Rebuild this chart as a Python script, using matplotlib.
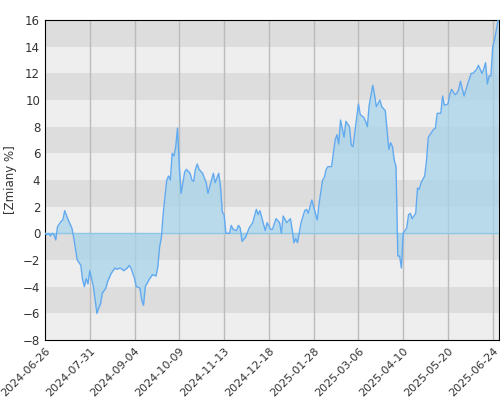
import matplotlib
matplotlib.use("Agg")
import matplotlib.pyplot as plt

tick_labels = ["2024-06-26","2024-07-31","2024-09-04","2024-10-09","2024-11-13","2024-12-18",
               "2025-01-28","2025-03-06","2025-04-10","2025-05-20","2025-06-24"]
xs = [0,1,2,3,4,5,6,7,9,10,11,13,15,16,18,20,21,22,23,24,25,27,29,30,31,32,34,35,37,39,
      40,42,44,46,47,48,50,51,53,54,55,56,58,60,62,63,64,65,66,68,69,70,71,72,73,74,75,76,78,79,
      81,82,83,84,85,86,88,90,91,92,94,95,97,98,99,100,101,103,104,105,107,108,109,110,112,114,116,118,119,120,
      123,124,126,127,129,131,132,133,135,137,138,139,140,141,143,145,146,147,149,150,152,153,155,156,157,158,160,162,163,164,
      165,167,168,170,171,172,174,175,176,178,179,180,181,183,184,185,187,188,190,192,193,194,195,196,
      197,198,199,200,202,203,204,205,207,208,209,210,212,213,214,216,217,218,219,221,222,223,225,226,
      227,229,230,231,232,234,236,238,239,241,242,244,245,246,247,248,249,250,251,253]
ys = [0,-0.1,0,-0.2,0,-0.1,-0.5,0.5,0.9,1.0,1.7,1.0,0.4,-0.3,-2.0,-2.4,-3.5,-4.0,-3.4,-3.8,-2.8,-4.0,-6.0,-5.6,-5.3,-4.5,-4.1,-3.6,-3.0,-2.6,
      -2.7,-2.6,-2.8,-2.6,-2.4,-2.6,-3.4,-4.0,-4.1,-5.0,-5.4,-4.0,-3.5,-3.1,-3.2,-2.5,-1.0,-0.3,1.5,4.0,4.3,4.0,6.0,5.8,6.5,7.9,5.0,3.0,4.6,4.8,
      4.5,4.0,3.9,4.8,5.2,4.8,4.5,3.8,3.0,3.5,4.5,3.8,4.5,3.5,1.6,1.4,0.0,0.0,0.6,0.3,0.2,0.6,0.4,-0.6,-0.3,0.4,0.8,1.8,1.4,1.7,
      0.2,0.8,0.3,0.3,1.1,0.8,0.0,1.3,0.8,1.1,0.3,-0.7,-0.4,-0.7,0.8,1.7,1.8,1.5,2.5,2.0,1.0,2.2,4.0,4.2,4.8,5.0,5.0,7.0,7.4,6.7,
      8.5,7.2,8.4,8.0,6.6,6.5,8.6,9.7,8.9,8.7,8.4,8.0,9.6,11.1,10.4,9.5,10.0,9.5,9.2,6.3,6.8,6.5,5.5,5.0,
      -1.7,-1.7,-2.6,0.0,0.4,1.4,1.5,1.1,1.5,3.4,3.3,3.8,4.3,5.4,7.2,7.6,7.8,7.9,9.0,9.0,10.3,9.6,9.7,10.4,
      10.8,10.4,10.5,10.8,11.4,10.3,11.2,12.0,12.0,12.3,12.6,12.0,12.3,12.8,11.2,11.8,11.8,14.0,14.5,16.0]

fig = plt.figure(figsize=(5, 4), dpi=100)
ax = fig.add_axes([0.09, 0.15, 0.908, 0.80])
for i, lo in enumerate(range(-8, 16, 2)):
    ax.axhspan(lo, lo + 2, color="#dddddd" if i % 2 == 1 else "#eeeeee", zorder=0, lw=0)
tick_pos = [25 * i for i in range(len(tick_labels))]
for t in tick_pos[1:]:
    ax.axvline(t, color="#bbbbbb", lw=1, zorder=1)
ax.fill_between(xs, ys, 0, color="#a8d4ea", alpha=0.75, zorder=2, lw=0)
ax.axhline(0, color="#8cc8e6", lw=1, zorder=3)
ax.plot(xs, ys, color="#62aaf0", lw=1, zorder=4)
ax.set_xlim(0, 253.5)
ax.set_ylim(-8, 16)
ax.set_yticks(range(-8, 17, 2))
ax.set_xticks(tick_pos)
ax.set_xticklabels(tick_labels, rotation=45, ha="right", rotation_mode="anchor", fontsize=8, color="#333333")
ax.tick_params(axis="y", labelsize=8.5, labelcolor="#333333", length=0)
ax.tick_params(axis="x", length=0, pad=4)
ax.set_ylabel("[Zmiany %]", fontsize=8.5, color="#333333")
for s in ax.spines.values():
    s.set_color("black")
fig.savefig("out.png", dpi=100)
